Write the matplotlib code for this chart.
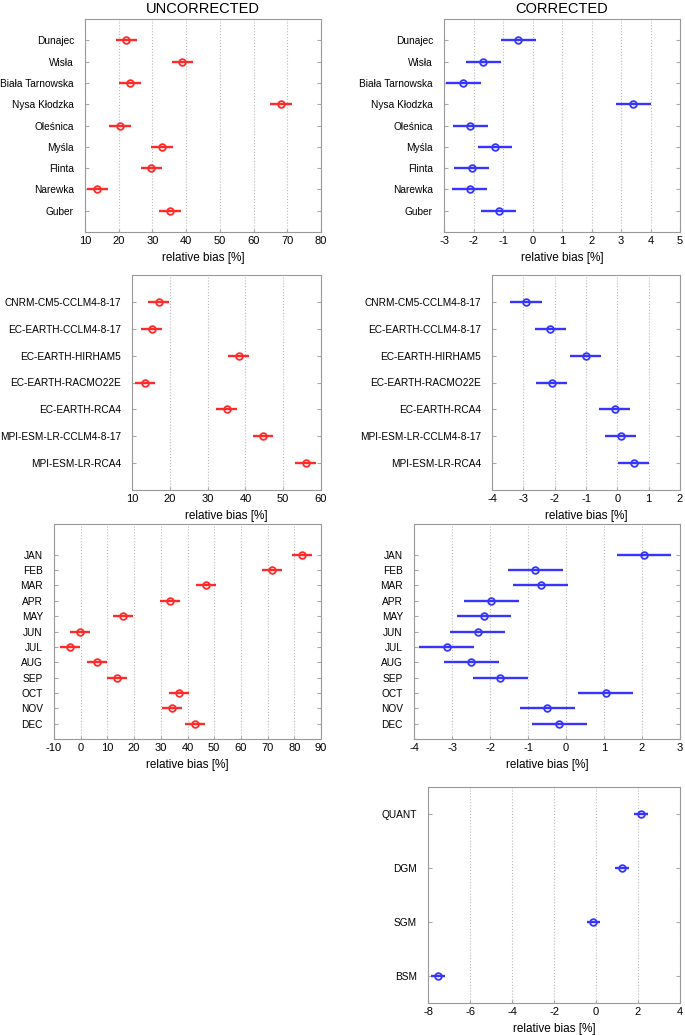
import numpy as np
import matplotlib.pyplot as plt

plt.rcParams['font.family'] = ['Liberation Sans', 'DejaVu Sans']
plt.rcParams['axes.unicode_minus'] = False

rivers = ["Dunajec", "Wisła", "Biała Tarnowska", "Nysa Kłodzka", "Oleśnica",
          "Myśla", "Flinta", "Narewka", "Guber"]
river_unc = [22.3, 38.9, 23.3, 68.2, 20.4, 32.9, 29.7, 13.7, 35.2]
river_unc_err = [3.2] * 9
river_cor = [-0.48, -1.67, -2.34, 3.42, -2.11, -1.27, -2.06, -2.13, -1.15]
river_cor_err = [0.59] * 9

models = ["CNRM-CM5-CCLM4-8-17", "EC-EARTH-CCLM4-8-17", "EC-EARTH-HIRHAM5",
          "EC-EARTH-RACMO22E", "EC-EARTH-RCA4", "MPI-ESM-LR-CCLM4-8-17",
          "MPI-ESM-LR-RCA4"]
model_unc = [17.05, 15.2, 38.2, 13.5, 35.0, 44.7, 55.9]
model_unc_err = [2.7] * 7
model_cor = [-2.91, -2.14, -1.01, -2.10, -0.09, 0.11, 0.52]
model_cor_err = [0.5] * 7

months = ["JAN", "FEB", "MAR", "APR", "MAY", "JUN", "JUL", "AUG", "SEP",
          "OCT", "NOV", "DEC"]
month_unc = [83.0, 71.5, 46.8, 33.3, 15.8, -0.1, -3.9, 6.0, 13.5, 36.7, 34.3, 42.7]
month_unc_err = [3.75] * 12
month_cor = [2.05, -0.81, -0.67, -1.97, -2.16, -2.32, -3.14, -2.49, -1.73,
             1.04, -0.49, -0.18]
month_cor_err = [0.72] * 12

methods = ["QUANT", "DGM", "SGM", "BSM"]
method_cor = [2.14, 1.24, -0.12, -7.54]
method_cor_err = [0.33] * 4

RED = '#ff2a2a'
BLUE = '#3535ff'
W, H = 685, 1035

fig = plt.figure(figsize=(W / 100, H / 100), dpi=100)


def panel(box, labels, vals, errs, color, xlim, xticks, ylim, title=None):
    l, t, r, b = box
    ax = fig.add_axes([l / W, 1 - b / H, (r - l) / W, (b - t) / H])
    y = np.arange(1, len(labels) + 1)
    ax.errorbar(vals, y, xerr=errs, fmt='o', color=color, mfc='none',
                mec=color, ms=4.8, mew=1.3, elinewidth=1.7, capsize=0)
    ax.set_xlim(*xlim)
    ax.set_xticks(xticks)
    ax.set_ylim(*ylim)
    ax.set_yticks(y)
    ax.set_yticklabels(labels)
    ax.grid(axis='x', color='#bbbbbb', linestyle=':', linewidth=0.8)
    ax.set_axisbelow(True)
    for s in ax.spines.values():
        s.set_color('#999999')
    ax.tick_params(axis='y', direction='in', length=3, color='#aaaaaa',
                   right=True, labelsize=7.3, pad=8)
    ax.tick_params(axis='x', direction='in', length=2, color='#aaaaaa',
                   labelsize=8, pad=3)
    ax.set_xlabel('relative bias [%]', fontsize=8.5, labelpad=4)
    if title:
        ax.set_title(title, fontsize=10.5, pad=4)
    return ax


panel((85, 19, 321, 232), rivers, river_unc, river_unc_err, RED,
      (10, 80), range(10, 81, 10), (10, 0), 'UNCORRECTED')
panel((444, 19, 680, 232), rivers, river_cor, river_cor_err, BLUE,
      (-3, 5), range(-3, 6), (10, 0), 'CORRECTED')
panel((132, 275, 321, 490), models, model_unc, model_unc_err, RED,
      (10, 60), range(10, 61, 10), (8, 0))
panel((492, 275, 680, 490), models, model_cor, model_cor_err, BLUE,
      (-4, 2), range(-4, 3), (8, 0))
panel((54, 524, 321, 739), months, month_unc, month_unc_err, RED,
      (-10, 90), range(-10, 91, 10), (13, -1))
panel((414, 524, 680, 739), months, month_cor, month_cor_err, BLUE,
      (-4, 3), range(-4, 4), (13, -1))
panel((428, 787, 680, 1003), methods, method_cor, method_cor_err, BLUE,
      (-8, 4), range(-8, 5, 2), (4.5, 0.5))

fig.savefig('out.png', dpi=100)
